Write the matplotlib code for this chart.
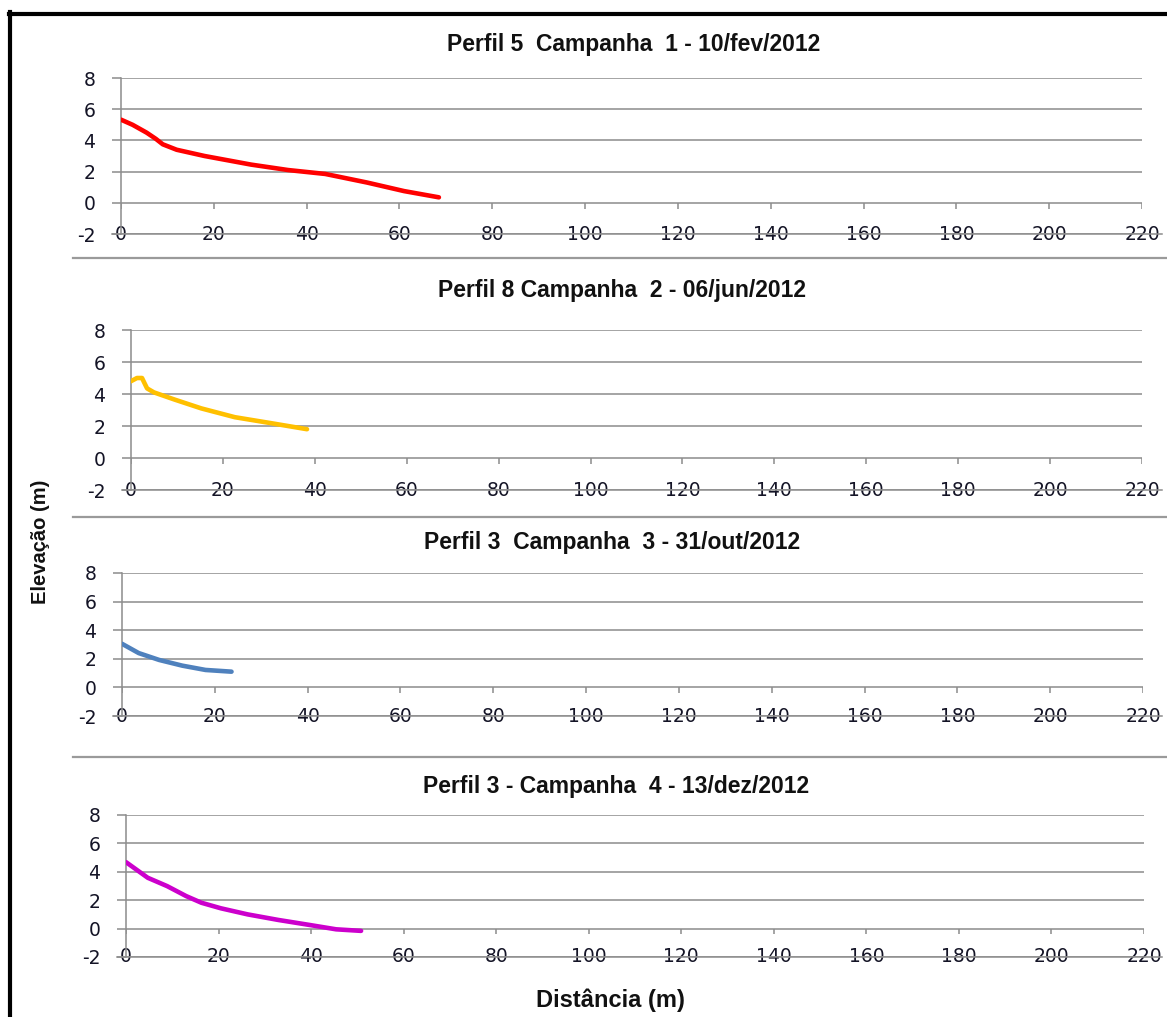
import matplotlib
matplotlib.use("Agg")
import matplotlib.pyplot as plt
from matplotlib.lines import Line2D

W, H = 1167, 1017

# Perfil 5 - Campanha 1
x1 = [0, 2.5, 5.5, 7.5, 9, 12, 18, 28, 36, 44, 53, 61, 68.5]
y1 = [5.33, 5.0, 4.5, 4.1, 3.75, 3.4, 3.0, 2.45, 2.1, 1.85, 1.3, 0.75, 0.35]
# Perfil 8 - Campanha 2
x2 = [0, 1.3, 2.4, 2.9, 3.5, 5, 9.5, 15.3, 22.6, 30, 38.3]
y2 = [4.8, 5.0, 5.0, 4.7, 4.35, 4.1, 3.65, 3.1, 2.55, 2.2, 1.8]
# Perfil 3 - Campanha 3
x3 = [0, 3.6, 8, 13, 18, 23.6]
y3 = [3.05, 2.4, 1.92, 1.52, 1.22, 1.1]
# Perfil 3 - Campanha 4
x4 = [0, 4.7, 8.9, 13, 16.3, 20.5, 26.3, 32.9, 39.6, 45.4, 50.8]
y4 = [4.68, 3.58, 2.99, 2.29, 1.82, 1.43, 1.0, 0.61, 0.26, -0.05, -0.16]

titulos = ["Perfil 5  Campanha  1 - 10/fev/2012",
           "Perfil 8 Campanha  2 - 06/jun/2012",
           "Perfil 3  Campanha  3 - 31/out/2012",
           "Perfil 3 - Campanha  4 - 13/dez/2012"]
cores = ["#ff0000", "#ffc000", "#4f81bd", "#cc00cc"]
series = [(x1, y1), (x2, y2), (x3, y3), (x4, y4)]

xticks = list(range(0, 221, 20))
yticks = list(range(-2, 9, 2))

# caixas dos graficos em pixels (esq, dir, topo, base) e posicao do titulo
caixas = [(121, 1142, 78, 234), (131, 1142, 330, 490),
          (122, 1143, 573, 716), (126, 1144, 815, 957)]
pos_titulo = [(634, 45), (622, 290), (612, 543), (616, 787)]
separadores = [258, 517, 757]

GRID = "#8c8c8c"
TXT = "#141426"


def fx(px):
    return px / W


def fy(py):
    return 1 - py / H


fig = plt.figure(figsize=(W / 100, H / 100), dpi=100)
fig.patch.set_facecolor("white")

for (xs, ys), cor, tit, (l, r, t, b), (tx, ty) in zip(series, cores, titulos, caixas, pos_titulo):
    ax = fig.add_axes([fx(l), fy(b), (r - l) / W, (b - t) / H])
    ax.set_xlim(0, 220)
    ax.set_ylim(-2, 8)
    for s in ["top", "right", "bottom"]:
        ax.spines[s].set_visible(False)
    ax.spines["left"].set_color(GRID)
    ax.spines["left"].set_linewidth(1.1)
    ax.set_yticks(yticks)
    ax.set_yticklabels([str(v) for v in yticks])
    ax.yaxis.grid(True, color=GRID, linewidth=1.1)
    ax.set_axisbelow(True)
    ax.tick_params(axis="y", direction="out", length=6.5, width=1.1, color=GRID,
                   pad=12, labelsize=13.5, labelcolor=TXT)
    ax.set_xticks(xticks)
    ax.set_xticklabels([str(v) for v in xticks])
    ax.tick_params(axis="x", length=0, pad=0, labelsize=13.5, labelcolor=TXT)
    for lbl in ax.get_xticklabels() + ax.get_yticklabels():
        lbl.set_fontweight("medium")
    for lbl in ax.get_xticklabels():
        lbl.set_va("center")
    # marcas do eixo x sobre a linha do zero
    ax.vlines(xticks, -0.38, 0, colors=GRID, linewidth=1.1, zorder=1)
    ax.plot(xs, ys, color=cor, linewidth=3.3, solid_capstyle="round",
            solid_joinstyle="round", zorder=3)
    # linha do -2 que passa pelos rotulos e segue ate a borda
    fig.add_artist(Line2D([fx(l - 9), fx(1162)], [fy(b), fy(b)], color=GRID, linewidth=1.1))
    fig.text(fx(tx), fy(ty), tit, ha="center", va="center", fontsize=16.5,
             fontweight="bold", family="Liberation Sans", color="#111111")

for sy in separadores:
    fig.add_artist(Line2D([fx(73), 1], [fy(sy), fy(sy)], color="#9a9a9a", linewidth=1.6))

fig.text(fx(610), fy(1000), "Distância (m)", ha="center", va="center", fontsize=17,
         fontweight="bold", family="Liberation Sans", color="#111111")
fig.text(fx(40), fy(542), "Elevação (m)", ha="center", va="center", rotation=90,
         fontsize=14.5, fontweight="bold", family="Liberation Sans", color="#111111")

# moldura preta (esquerda e topo)
fig.add_artist(Line2D([fx(10), fx(10)], [fy(12), 0], color="black", linewidth=3))
fig.add_artist(Line2D([fx(8.5), 1], [fy(14), fy(14)], color="black", linewidth=3))

fig.savefig("out.png", dpi=100)
